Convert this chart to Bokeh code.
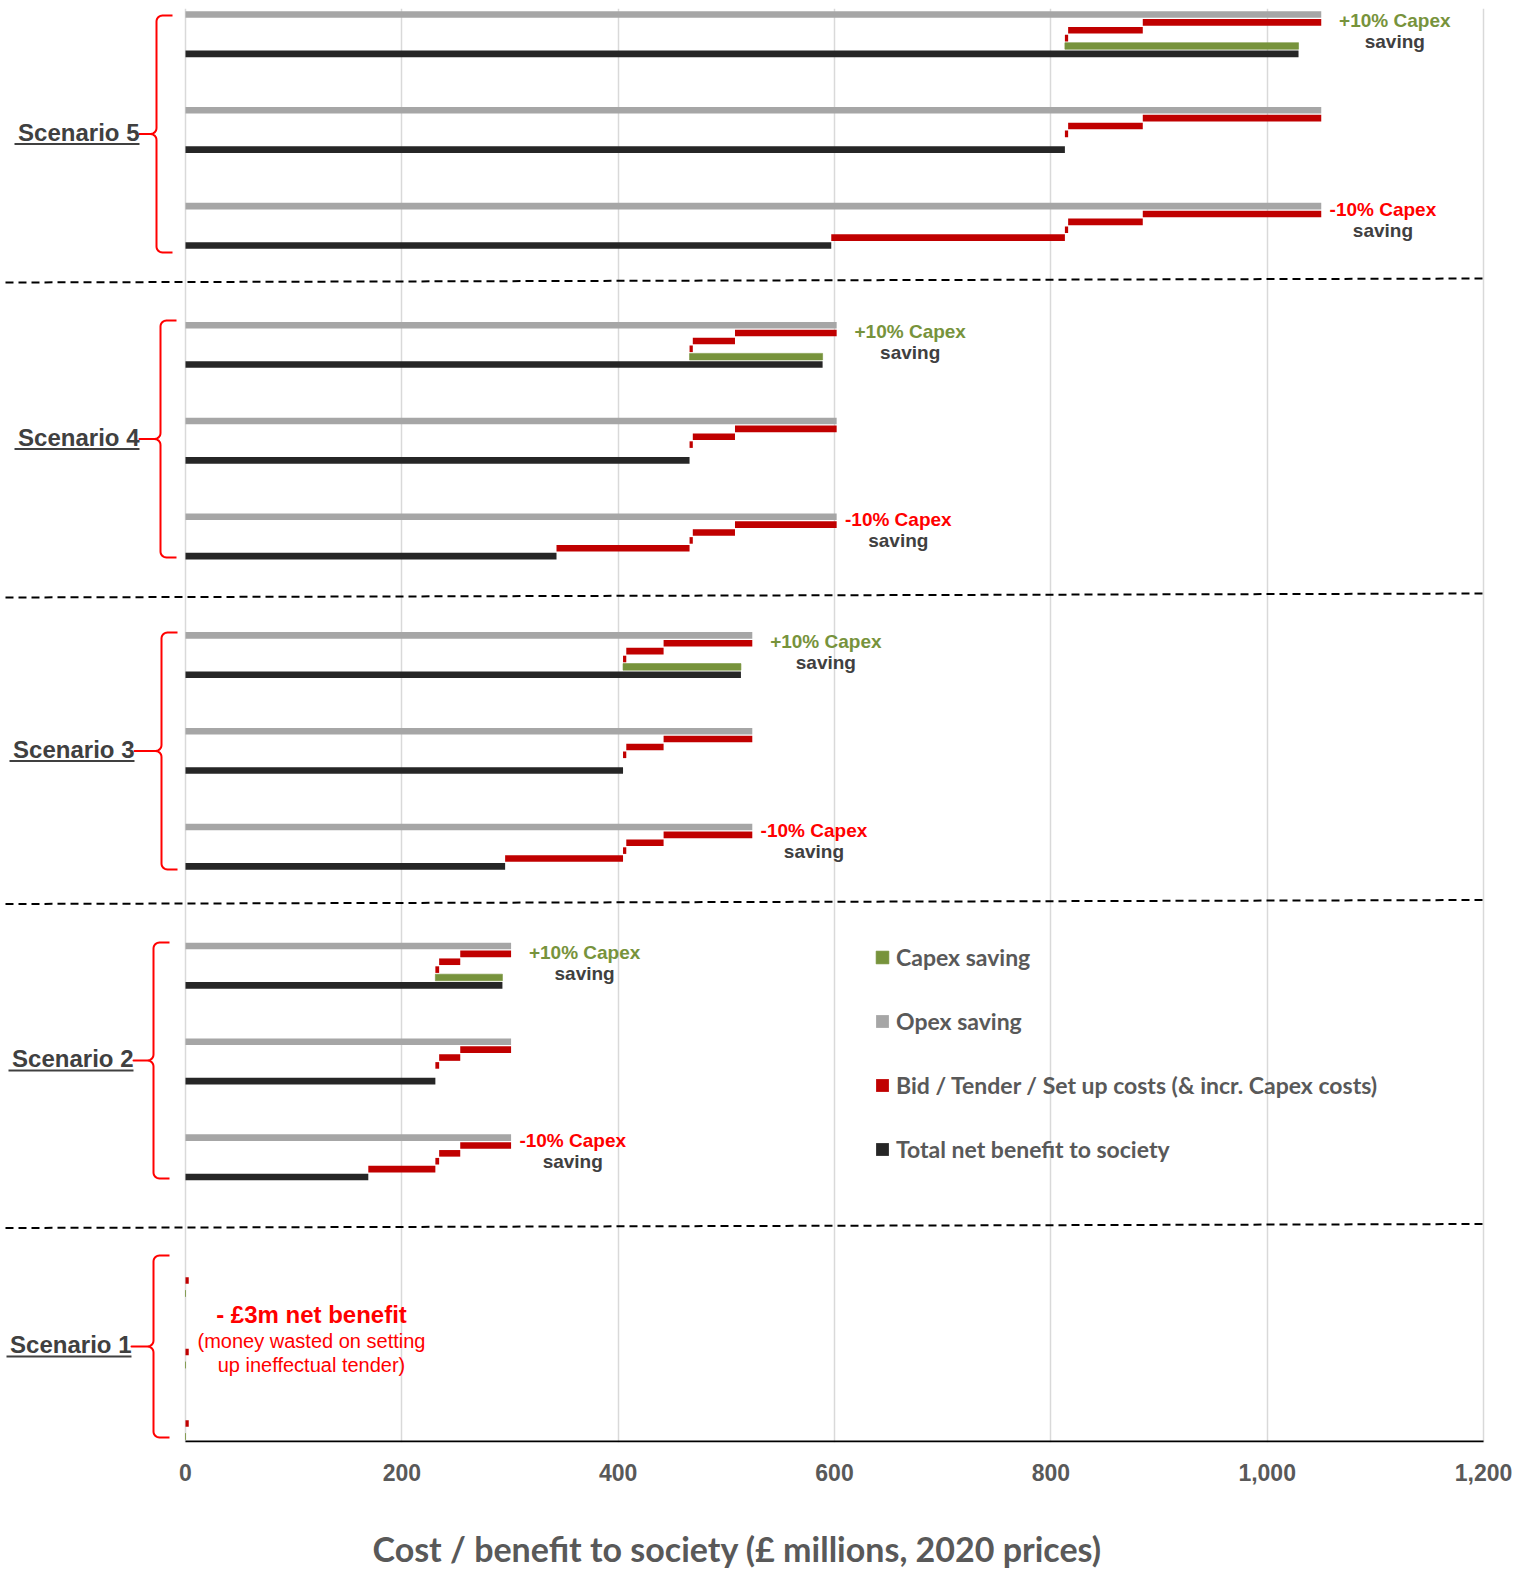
import numpy as np
from bokeh.plotting import figure
from bokeh.layouts import column
from bokeh.models import (Range1d, FixedTicker, NumeralTickFormatter, Legend,
                          LegendItem, ColumnDataSource)
from bokeh.core.properties import value
from bokeh.embed import file_html
from bokeh.resources import INLINE

# ---------------------------------------------------------------- data (£m)
scenarios = ["Scenario 5", "Scenario 4", "Scenario 3", "Scenario 2", "Scenario 1"]
opex_saving = [1050, 602, 524, 301, 0]
bid_costs = [165, 94, 82, 47, 0]
tender_costs = [69, 39, 34.5, 19.5, 0]
setup_costs = [3, 3, 3, 3.5, 3]
capex_swing = [216, 123, 109, 62, 0]
cases = ["+10% Capex", "Base", "-10% Capex"]
case_sign = [1, 0, -1]
x_ticks = [0, 200, 400, 600, 800, 1000, 1200]

legend_labels = ["Capex saving", "Opex saving",
                 "Bid / Tender / Set up costs (& incr. Capex costs)",
                 "Total net benefit to society"]
x_title = "Cost / benefit to society (£ millions, 2020 prices)"

# ---------------------------------------------------------------- styling
GREEN = "#77933C"
GREY = "#A6A6A6"
RED = "#C00000"
BLACK = "#262626"
BRIGHT_RED = "#FF0000"
DARK_TEXT = "#404040"
AXIS_TEXT = "#595959"
ARIAL = value("Liberation Sans")

W, H = 1530, 1569
TITLE_H = 49                       # strip under the chart holding the axis title
CHART_H = H - TITLE_H
X0_PX, X1_PX = 185, 1483          # screen span of 0 .. 1200
FRAME_TOP, FRAME_BOTTOM = 8, 1442
PX_PER_UNIT = (X1_PX - X0_PX) / 1200.0


def px_to_x(px):
    return (px - X0_PX) / PX_PER_UNIT


# vertical layout: y runs downward in screen pixels
block_top = [14, 324.7, 634.9, 945.5, 1241]
case_step = [95.8, 95.8, 95.8, 95.8, 71.5]
row_step = [7.87, 7.87, 7.87, 7.87, 13]
BAR_H = 6.6
brace_span = [(15, 252), (320, 557), (632, 869), (942, 1178), (1255, 1437)]
brace_spine = [156, 160, 161, 153, 153]
brace_tip = [139, 139, 134, 133, 131]
separators = [280, 595, 901.5, 1225.5]

# ---------------------------------------------------------------- waterfall bars
bars = {k: dict(left=[], right=[], y=[]) for k in ("green", "grey", "red", "black")}


def add(kind, left, right, y):
    bars[kind]["left"].append(left)
    bars[kind]["right"].append(right)
    bars[kind]["y"].append(y)


labels_top = dict(x=[], y=[], text=[], color=[])
labels_sub = dict(x=[], y=[], text=[])

for i, name in enumerate(scenarios):
    for c, sign in enumerate(case_sign):
        y0 = block_top[i] + c * case_step[i]

        def row(r):
            return y0 + r * row_step[i]

        opex = opex_saving[i]
        after_bid = opex - bid_costs[i]
        after_tender = after_bid - tender_costs[i]
        base = after_tender - setup_costs[i]
        net = base + sign * capex_swing[i]

        if opex > 0:
            add("grey", 0, opex, row(0))
        if bid_costs[i] > 0:
            add("red", after_bid, opex, row(1))
        if tender_costs[i] > 0:
            add("red", after_tender, after_bid, row(2))
        lo = max(base, 0)
        add("red", lo, lo + setup_costs[i], row(3))

        if capex_swing[i] == 0:
            add("green", lo, lo, row(4))
        elif sign > 0:
            add("green", base, net, row(4))
        elif sign < 0:
            add("red", net, base, row(4))

        if net > 0:
            add("black", 0, net, row(5))

        if sign != 0 and capex_swing[i] > 0:
            if sign > 0:
                lx, dy, col = opex + 68, 6, GREEN
            else:
                lx, dy, col = opex + 57, 3, BRIGHT_RED
            labels_top["x"].append(lx)
            labels_top["y"].append(row(0) + dy)
            labels_top["color"].append(col)
            labels_top["text"].append(cases[c])
            labels_sub["x"].append(lx)
            labels_sub["y"].append(row(0) + dy + 21)
            labels_sub["text"].append("saving")

p = figure(width=W, height=CHART_H,
           x_range=Range1d(px_to_x(0), px_to_x(W)),
           y_range=Range1d(FRAME_BOTTOM, FRAME_TOP),
           min_border_left=0, min_border_right=0,
           min_border_top=FRAME_TOP, min_border_bottom=CHART_H - FRAME_BOTTOM,
           y_axis_location=None, toolbar_location=None,
           output_backend="svg", outline_line_color=None,
           background_fill_color="white", border_fill_color="white")

# grid and axis
p.xgrid.ticker = FixedTicker(ticks=x_ticks)
p.xgrid.grid_line_color = "#D9D9D9"
p.xgrid.grid_line_width = 1.5
p.ygrid.visible = False
ax = p.xaxis[0]
ax.ticker = FixedTicker(ticks=x_ticks)
ax.formatter = NumeralTickFormatter(format="0,0")
ax.axis_line_color = None
ax.major_tick_line_color = None
ax.minor_tick_line_color = None
ax.major_label_text_font = "Liberation Sans"
ax.major_label_text_font_style = "bold"
ax.major_label_text_font_size = "23px"
ax.major_label_text_color = AXIS_TEXT
ax.major_label_standoff = 15

p.segment(x0=[x_ticks[0]], x1=[x_ticks[-1]], y0=[FRAME_BOTTOM - 1], y1=[FRAME_BOTTOM - 1],
          line_color="black", line_width=2)

# scenario separators
p.segment(x0=[px_to_x(5)] * len(separators), x1=[px_to_x(1485)] * len(separators),
          y0=[s + 2 for s in separators], y1=[s - 2 for s in separators],
          line_color="black", line_width=2, line_dash="8 5")

# bars
r_grey = p.hbar(y="y", left="left", right="right", height=BAR_H,
                source=ColumnDataSource(bars["grey"]), fill_color=GREY, line_color=None)
r_red = p.hbar(y="y", left="left", right="right", height=BAR_H,
               source=ColumnDataSource(bars["red"]), fill_color=RED, line_color=None)
r_green = p.hbar(y="y", left="left", right="right", height=BAR_H,
                 source=ColumnDataSource(bars["green"]), fill_color=GREEN,
                 line_color=GREEN, line_width=1, line_alpha=0.6)
r_black = p.hbar(y="y", left="left", right="right", height=BAR_H,
                 source=ColumnDataSource(bars["black"]), fill_color=BLACK, line_color=None)

# case annotations
p.text(x="x", y="y", text="text", text_color="color", source=ColumnDataSource(labels_top),
       text_font=ARIAL, text_font_style="bold", text_font_size="19px",
       text_align="center", text_baseline="middle")
p.text(x="x", y="y", text="text", source=ColumnDataSource(labels_sub),
       text_font=ARIAL, text_font_style="bold", text_font_size="19px",
       text_color=DARK_TEXT, text_align="center", text_baseline="middle")


# braces and scenario names
def brace(spine, top, bottom, tip, mid, r=6.0, hook=16):
    xs, ys = [spine + hook], [top]
    for t in np.linspace(np.pi / 2, np.pi, 8):
        xs.append(spine + r + r * np.cos(t)); ys.append(top + r - r * np.sin(t))
    for t in np.linspace(0, -np.pi / 2, 8):
        xs.append(spine - r + r * np.cos(t)); ys.append(mid - r - r * np.sin(t))
    xs.append(tip); ys.append(mid)
    for t in np.linspace(np.pi / 2, 0, 8):
        xs.append(spine - r + r * np.cos(t)); ys.append(mid + r - r * np.sin(t))
    for t in np.linspace(np.pi, 1.5 * np.pi, 8):
        xs.append(spine + r + r * np.cos(t)); ys.append(bottom - r - r * np.sin(t))
    xs.append(spine + hook); ys.append(bottom)
    return [px_to_x(v) for v in xs], ys


name_x, name_y, ul_x0, ul_x1, ul_y = [], [], [], [], []
for i, name in enumerate(scenarios):
    top, bottom = brace_span[i]
    mid = (top + bottom) / 2
    bx, by = brace(brace_spine[i], top, bottom, brace_tip[i], mid)
    p.line(bx, by, line_color=BRIGHT_RED, line_width=2, line_join="round")
    name_x.append(px_to_x(brace_tip[i]))
    name_y.append(mid - 2)
    ul_x0.append(px_to_x(brace_tip[i] - 125))
    ul_x1.append(px_to_x(brace_tip[i]))
    ul_y.append(mid + 10)

p.text(x=name_x, y=name_y, text=scenarios, text_font=ARIAL, text_font_style="bold",
       text_font_size="24px", text_color=DARK_TEXT, text_align="right",
       text_baseline="middle")
p.segment(x0=ul_x0, x1=ul_x1, y0=ul_y, y1=ul_y, line_color=DARK_TEXT, line_width=2)

# scenario 1 note
s1_net = -setup_costs[-1]
note_x = px_to_x(311)
p.text(x=[note_x], y=[1314], text=[f"- £{abs(s1_net):.0f}m net benefit"],
       text_font=ARIAL, text_font_style="bold", text_font_size="24px",
       text_color=BRIGHT_RED, text_align="center", text_baseline="middle")
p.text(x=[note_x, note_x], y=[1340, 1364],
       text=["(money wasted on setting", "up ineffectual tender)"],
       text_font=ARIAL, text_font_size="20px", text_color=BRIGHT_RED,
       text_align="center", text_baseline="middle")

# legend
legend = Legend(items=[LegendItem(label=legend_labels[0], renderers=[r_green]),
                       LegendItem(label=legend_labels[1], renderers=[r_grey]),
                       LegendItem(label=legend_labels[2], renderers=[r_red]),
                       LegendItem(label=legend_labels[3], renderers=[r_black])],
                location=(874, 279), orientation="vertical",
                glyph_width=16, glyph_height=16, label_height=26, spacing=36,
                label_standoff=6, padding=0, margin=0,
                label_text_font="Lato", label_text_font_style="bold",
                label_text_font_size="23px", label_text_color=AXIS_TEXT,
                background_fill_alpha=0, border_line_alpha=0)
p.add_layout(legend)

# axis title strip
t = figure(width=W, height=TITLE_H, x_range=Range1d(0, W), y_range=Range1d(TITLE_H, 0),
           min_border=0, x_axis_location=None, y_axis_location=None,
           toolbar_location=None, output_backend="svg", outline_line_color=None,
           background_fill_color="white", border_fill_color="white")
t.xgrid.visible = False
t.ygrid.visible = False
t.text(x=[372], y=[28], text=[x_title], text_font=value("Lato"), text_font_style="bold",
       text_font_size="34px", text_color=AXIS_TEXT, text_align="left",
       text_baseline="middle")

open("out.html", "w").write(file_html(column(p, t, spacing=0), INLINE))
